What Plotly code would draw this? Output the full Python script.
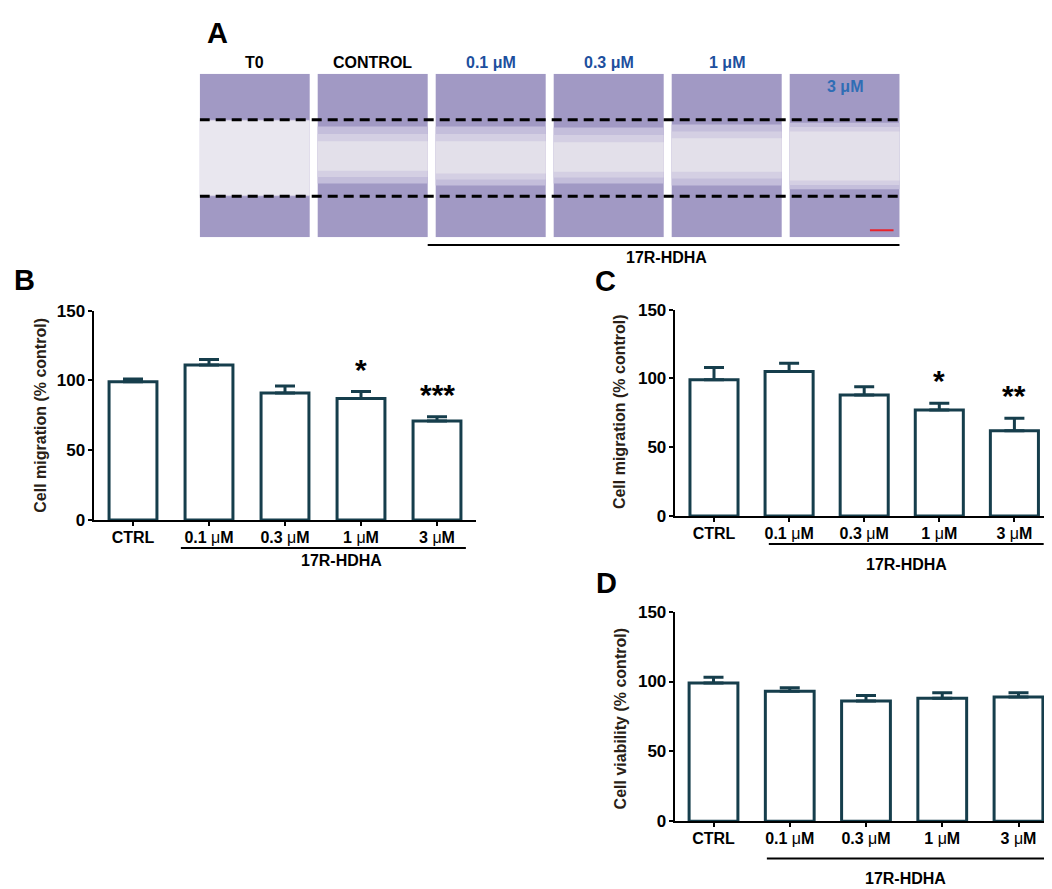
import plotly.graph_objects as go

W, H = 1052, 889

groups = ["CTRL", "0.1 μM", "0.3 μM", "1 μM", "3 μM"]

migration_b = [99, 111, 91, 87, 71]
migration_b_sem = [2, 4, 5, 5, 3]
migration_b_stars = ["", "", "", "*", "***"]

migration_c = [99, 105, 88, 77, 62]
migration_c_sem = [9, 6, 6, 5, 9]
migration_c_stars = ["", "", "", "*", "**"]

viability_d = [99, 93, 86, 88, 89]
viability_d_sem = [4, 2.5, 4, 4, 3]
viability_d_stars = ["", "", "", "", ""]

photo_labels = ["T0", "CONTROL", "0.1 μM", "0.3 μM", "1 μM", "3 μM"]
# scratch edges, fraction of photo height (0 = bottom)
front_top = [0.719, 0.677, 0.677, 0.671, 0.689, 0.701]
clear_top = [0.713, 0.587, 0.587, 0.581, 0.605, 0.647]
clear_bottom = [0.257, 0.407, 0.389, 0.401, 0.401, 0.347]
front_bottom = [0.251, 0.329, 0.317, 0.329, 0.317, 0.293]
scratch_lines = [0.719, 0.251]

FONT = "Liberation Sans"
BAR = "#163e4c"
DENSE = "#a199c4"
FRONT = "#c4bedb"
CLEAR = "#e3e0ea"


def px(x):
    return min(max(x / W, 0), 1)


def py(y):
    return 1 - y / H


def tick_text(g):
    return "<b>" + g.replace("μ", "<span style='font-weight:normal'>μ</span>") + "</b>"


def label(x, y, text, size=16, color="black", angle=0):
    return dict(x=px(x), y=py(y), xref="paper", yref="paper", text=text, textangle=angle,
                showarrow=False, xanchor="center", yanchor="middle",
                font=dict(family=FONT, size=size, color=color))


fig = go.Figure()
shapes = []
ann = []

# ---- panel A: scratch photos
pitch = 1.0
pw = 110 / 118
for i, lab in enumerate(photo_labels):
    x0, x1 = i * pitch, i * pitch + pw
    shapes.append(dict(type="rect", xref="x4", yref="y4", x0=x0, x1=x1, y0=0, y1=1,
                       fillcolor=DENSE, line_width=0, layer="below"))
    # soft scratch front: blend from dense to clear
    shapes.append(dict(type="rect", xref="x4", yref="y4", x0=x0, x1=x1,
                       y0=front_bottom[i], y1=front_top[i],
                       fillcolor=FRONT, line_width=0, layer="below"))
    shapes.append(dict(type="rect", xref="x4", yref="y4", x0=x0, x1=x1,
                       y0=(front_bottom[i] + clear_bottom[i]) / 2, y1=(front_top[i] + clear_top[i]) / 2,
                       fillcolor="#d4cfe3", line_width=0, layer="below"))
    shapes.append(dict(type="rect", xref="x4", yref="y4", x0=x0, x1=x1,
                       y0=clear_bottom[i], y1=clear_top[i],
                       fillcolor=CLEAR if i else "#e9e7ef", line_width=0, layer="below"))
    if lab == "3 μM":
        ann.append(dict(x=x0 + pw * 0.5, y=0.92, xref="x4", yref="y4", text="<b>3 μM</b>",
                        showarrow=False, xanchor="center", yanchor="middle",
                        font=dict(family=FONT, size=16, color="#2f6db5")))
    else:
        ann.append(dict(x=x0 + pw / 2, y=py(47), xref="x4", yref="paper", text="<b>%s</b>" % lab,
                        showarrow=False, xanchor="center", yanchor="middle",
                        font=dict(family=FONT, size=16, color="black" if i < 2 else "#1d4f9e")))

for yl in scratch_lines:
    shapes.append(dict(type="line", xref="x4", yref="y4", x0=0, x1=5 * pitch + pw, y0=yl, y1=yl,
                       line=dict(color="black", width=3, dash="10px,6px")))
# scale bar
shapes.append(dict(type="line", xref="x4", yref="y4", x0=5.68, x1=5.88, y0=0.042, y1=0.042,
                   line=dict(color="#e8232b", width=2)))
shapes.append(dict(type="line", xref="x4", yref="paper", x0=2 - (pitch - pw), x1=5 * pitch + pw,
                   y0=py(233), y1=py(233), line=dict(color="black", width=2)))
ann.append(label(658, 246, "<b>17R-HDHA</b>"))

fig.update_layout(
    xaxis4=dict(domain=[px(191.7), px(891.7)], range=[0, 5 * pitch + pw], visible=False, anchor="y4"),
    yaxis4=dict(domain=[py(225), py(58)], range=[0, 1], visible=False, anchor="x4"),
)

# ---- bar panels (first bar centre and bar pitch in page px set the category scale)
panels = [
    dict(ax="", vals=migration_b, sem=migration_b_sem, stars=migration_b_stars,
         xd=[85.5, 468], c0=125, sp=76, yd=[514, 300], width=0.63,
         title="Cell migration (% control)", tpos=(31.7, 406.7),
         ul=[0.63, 4.38, 542.5], hd=(333, 555), letter=("B", 16, 269)),
    dict(ax="2", vals=migration_c, sem=migration_c_sem, stars=migration_c_stars,
         xd=[666.7, 1045], c0=706, sp=75.1, yd=[510, 299], width=0.64,
         title="Cell migration (% control)", tpos=(611.7, 403),
         ul=[0.73, 4.39, 538.5], hd=(898, 559), letter=("C", 597, 270)),
    dict(ax="3", vals=viability_d, sem=viability_d_sem, stars=viability_d_stars,
         xd=[666.7, 1048], c0=705.5, sp=76.25, yd=[821.7, 607.7], width=0.64,
         title="Cell viability (% control)", tpos=(612.7, 717),
         ul=[0.70, 4.36, 860], hd=(897, 880), letter=("D", 598, 578)),
]

for p in panels:
    xa, ya = "x" + p["ax"], "y" + p["ax"]
    xl, xr = p["xd"]
    rng = [(xl - p["c0"]) / p["sp"], (xr - p["c0"]) / p["sp"]]
    fig.add_trace(go.Bar(
        x=list(range(len(groups))), y=p["vals"], width=p["width"], xaxis=xa, yaxis=ya,
        marker=dict(color="white", line=dict(color=BAR, width=3)),
        error_y=dict(type="data", symmetric=False, array=p["sem"],
                     arrayminus=[0] * len(groups), color=BAR, thickness=3, width=10),
        showlegend=False, hoverinfo="skip",
    ))
    for i, s in enumerate(p["stars"]):
        if s:
            ann.append(dict(x=i, y=p["vals"][i] + p["sem"][i], xref=xa, yref=ya, text="<b>%s</b>" % s,
                            showarrow=False, xanchor="center", yanchor="bottom", yshift=4,
                            font=dict(family=FONT, size=30, color="black")))
    key = p["ax"]
    fig.layout["xaxis" + key] = dict(
        domain=[px(xl), px(xr)], range=rng, anchor=ya,
        tickvals=list(range(len(groups))), ticktext=[tick_text(g) for g in groups],
        showline=True, linecolor="black", linewidth=2, ticks="outside", ticklen=4,
        tickwidth=2, tickcolor="black", showgrid=False, zeroline=False, ticklabelstandoff=-2,
        tickfont=dict(family=FONT, size=16, color="black"),
    )
    fig.layout["yaxis" + key] = dict(
        domain=[py(p["yd"][0]), py(p["yd"][1])], range=[0, 150], anchor=xa,
        tickvals=[0, 50, 100, 150], ticktext=["<b>%d</b>" % v for v in [0, 50, 100, 150]],
        showline=True, linecolor="black", linewidth=2, ticks="outside", ticklen=4,
        tickwidth=2, tickcolor="black", showgrid=False, zeroline=False, ticklabelstandoff=-1,
        tickfont=dict(family=FONT, size=17, color="black"),
    )
    ann.append(label(p["tpos"][0], p["tpos"][1], "<b>%s</b>" % p["title"], color="#2a1f17", angle=-90))
    shapes.append(dict(type="line", xref=xa, yref="paper", x0=p["ul"][0], x1=p["ul"][1],
                       y0=py(p["ul"][2]), y1=py(p["ul"][2]), line=dict(color="black", width=2)))
    ann.append(label(p["hd"][0], p["hd"][1], "<b>17R-HDHA</b>"))
    lt, lx, ly = p["letter"]
    ann.append(label(lx, ly, "<b>%s</b>" % lt, size=29))

ann.append(label(209, 16, "<b>A</b>", size=29))

fig.update_layout(
    width=W, height=H, margin=dict(l=0, r=0, t=0, b=0),
    paper_bgcolor="white", plot_bgcolor="white",
    shapes=shapes, annotations=ann, bargap=0.3,
)

fig.write_html("out.html")
